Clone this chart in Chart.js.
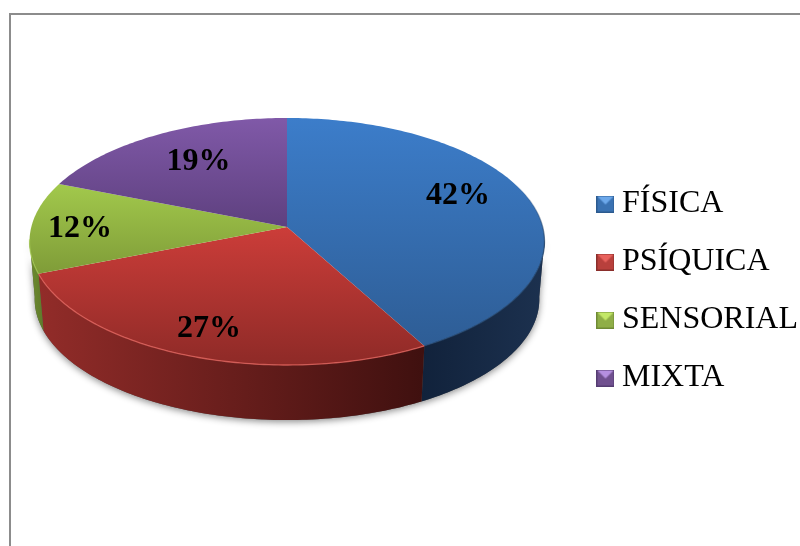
<!DOCTYPE html>
<html>
<head>
<meta charset="utf-8">
<style>
    html, body { margin: 0; padding: 0; background: #fff; }
    #frame { position: absolute; left: 9px; top: 13px; right: 0; bottom: 0; border-left: 2px solid #8c8c8c; border-top: 2px solid #8c8c8c; }
    canvas { position: absolute; left: 0; top: 0; }
</style>
<script src="https://cdn.jsdelivr.net/npm/chart.js@4/dist/chart.umd.js"></script>
</head>
<body>
<div id="frame"></div>
<canvas id="discapacidadChart" width="800" height="546"></canvas>
<script>
const categories = ['FÍSICA', 'PSÍQUICA', 'SENSORIAL', 'MIXTA'];
const percentages = [42, 27, 12, 19];

const topLight = ['#3c7dca', '#cc3d39', '#a2c94c', '#8059a8'];
const topDark = ['#2e5d95', '#8e2a27', '#7f9c38', '#5e407f'];
const wallLeft = ['#11223b', '#922c29', '#6f8c31', '#4b3366'];
const wallRight = ['#1c314f', '#3f100f', '#5f7a2a', '#4b3366'];
const rimColors = ['rgba(30,62,100,0.7)', 'rgba(226,100,94,0.8)', 'rgba(169,207,88,0.7)', 'rgba(139,102,179,0.7)'];
const markerTop = ['#6ca8ea', '#e8625d', '#c3e868', '#b58fe0'];
const markerBase = ['#3a72b2', '#b8403c', '#8fae47', '#70508f'];
const markerEdge = ['#2c5a8f', '#8a2e2b', '#6f8a35', '#553c72'];

// le camembert Word est en perspective : le centre n'est pas au milieu de l'ellipse
const view = { cx: 287, cy: 227, rx: 255.7, ry: 121.8, k: 0.1174, depth: 57.8, shrink: 0.98 };
const labelLift = [-10, -2, 2, -3];
const labelRadius = [0.705, 0.82, 0.81, 0.655];

function project(angle, r, level) {
    const u = Math.cos(angle) * r;
    const v = Math.sin(angle) * r;
    const w = 1 - view.k * v;
    const s = level ? view.shrink : 1;
    return {
        x: view.cx + s * view.rx * u / w,
        y: view.cy + s * view.ry * v / w + (level ? view.depth : 0)
    };
}

function arcPoints(from, to, level) {
    const pts = [];
    const steps = Math.max(2, Math.ceil((to - from) * 60));
    for (let i = 0; i <= steps; i++) {
        pts.push(project(from + (to - from) * i / steps, 1, level));
    }
    return pts;
}

function tracePath(ctx, pts) {
    ctx.beginPath();
    pts.forEach((p, i) => i ? ctx.lineTo(p.x, p.y) : ctx.moveTo(p.x, p.y));
    ctx.closePath();
}

const pie3d = {
    id: 'pie3d',
    // les arcs d'origine sont remplacés par le dessin en perspective
    beforeDatasetDraw() {
        return false;
    },
    beforeDatasetsDraw(chart) {
        const ctx = chart.ctx;
        const arcs = chart.getDatasetMeta(0).data;
        const wallFrom = 0.1;
        const wallTo = Math.PI - 0.1;

        // ombre sous la tranche
        ctx.save();
        ctx.shadowColor = 'rgba(0,0,0,0.45)';
        ctx.shadowBlur = 7;
        ctx.shadowOffsetY = 2;
        ctx.fillStyle = '#555';
        tracePath(ctx, arcPoints(wallFrom, wallTo, 1).concat(arcPoints(wallFrom, wallTo, 0).reverse()));
        ctx.fill();
        ctx.restore();

        // tranche
        arcs.forEach((arc, i) => {
            const from = Math.max(arc.startAngle, wallFrom);
            const to = Math.min(arc.endAngle, wallTo);
            if (to <= from) return;
            const lower = arcPoints(from, to, 1);
            const upper = arcPoints(from, to, 0);
            const xs = lower.concat(upper).map(p => p.x);
            const grad = ctx.createLinearGradient(Math.min(...xs), 0, Math.max(...xs), 0);
            grad.addColorStop(0, wallLeft[i]);
            grad.addColorStop(1, wallRight[i]);
            ctx.fillStyle = grad;
            tracePath(ctx, lower.concat(upper.reverse()));
            ctx.fill();
        });

        // dessus
        arcs.forEach((arc, i) => {
            const pts = arcPoints(arc.startAngle, arc.endAngle, 0);
            pts.push(project(0, 0, 0));
            const ys = pts.map(p => p.y);
            const grad = ctx.createLinearGradient(0, Math.min(...ys), 0, Math.max(...ys));
            grad.addColorStop(0, topLight[i]);
            grad.addColorStop(1, topDark[i]);
            ctx.fillStyle = grad;
            tracePath(ctx, pts);
            ctx.fill();
        });

        // liseré seulement sur l'avant, le bleu s'estompe vers le haut
        arcs.forEach((arc, i) => {
            const from = Math.max(arc.startAngle, wallFrom - 0.5);
            const to = Math.min(arc.endAngle, wallTo);
            if (to <= from) return;
            const rim = arcPoints(from, to, 0);
            if (i === 0) {
                const fade = ctx.createLinearGradient(0, rim[0].y, 0, rim[0].y + 60);
                fade.addColorStop(0, 'rgba(30,62,100,0)');
                fade.addColorStop(1, rimColors[i]);
                ctx.strokeStyle = fade;
            } else {
                ctx.strokeStyle = rimColors[i];
            }
            ctx.lineWidth = 1.3;
            ctx.beginPath();
            rim.forEach((p, j) => j ? ctx.lineTo(p.x, p.y) : ctx.moveTo(p.x, p.y));
            ctx.stroke();
        });

        // étiquettes
        ctx.fillStyle = '#000';
        ctx.font = 'bold 32px "Liberation Serif"';
        ctx.textAlign = 'center';
        ctx.textBaseline = 'middle';
        arcs.forEach((arc, i) => {
            const p = project((arc.startAngle + arc.endAngle) / 2, labelRadius[i], 0);
            ctx.fillText(percentages[i] + '%', p.x, p.y + labelLift[i]);
        });
    }
};

function makeMarker(i) {
    const c = document.createElement('canvas');
    c.width = 18;
    c.height = 17;
    const m = c.getContext('2d');
    m.fillStyle = markerBase[i];
    m.fillRect(0, 0, 18, 17);
    m.fillStyle = markerTop[i];
    m.beginPath();
    m.moveTo(1, 1);
    m.lineTo(17, 1);
    m.lineTo(9, 9);
    m.closePath();
    m.fill();
    m.strokeStyle = markerEdge[i];
    m.strokeRect(0.5, 0.5, 17, 16);
    return c;
}

document.addEventListener('DOMContentLoaded', function () {
    const ctx = document.getElementById('discapacidadChart').getContext('2d');

    new Chart(ctx, {
        type: 'pie',
        data: {
            labels: categories,
            datasets: [{
                data: percentages,
                backgroundColor: markerBase,
                borderWidth: 0
            }]
        },
        options: {
            responsive: false,
            animation: false,
            layout: {
                padding: { top: 36, right: -8 }
            },
            plugins: {
                tooltip: { enabled: false },
                legend: {
                    position: 'right',
                    labels: {
                        color: '#000',
                        font: { family: '"Liberation Serif"', size: 32 },
                        padding: 26,
                        usePointStyle: true,
                        pointStyleWidth: 1,
                        generateLabels: chart => categories.map((text, i) => ({
                            text: text,
                            fontColor: '#000',
                            pointStyle: makeMarker(i),
                            lineWidth: 0,
                            hidden: false,
                            index: i
                        }))
                    }
                }
            }
        },
        plugins: [pie3d]
    });
});
</script>
</body>
</html>
